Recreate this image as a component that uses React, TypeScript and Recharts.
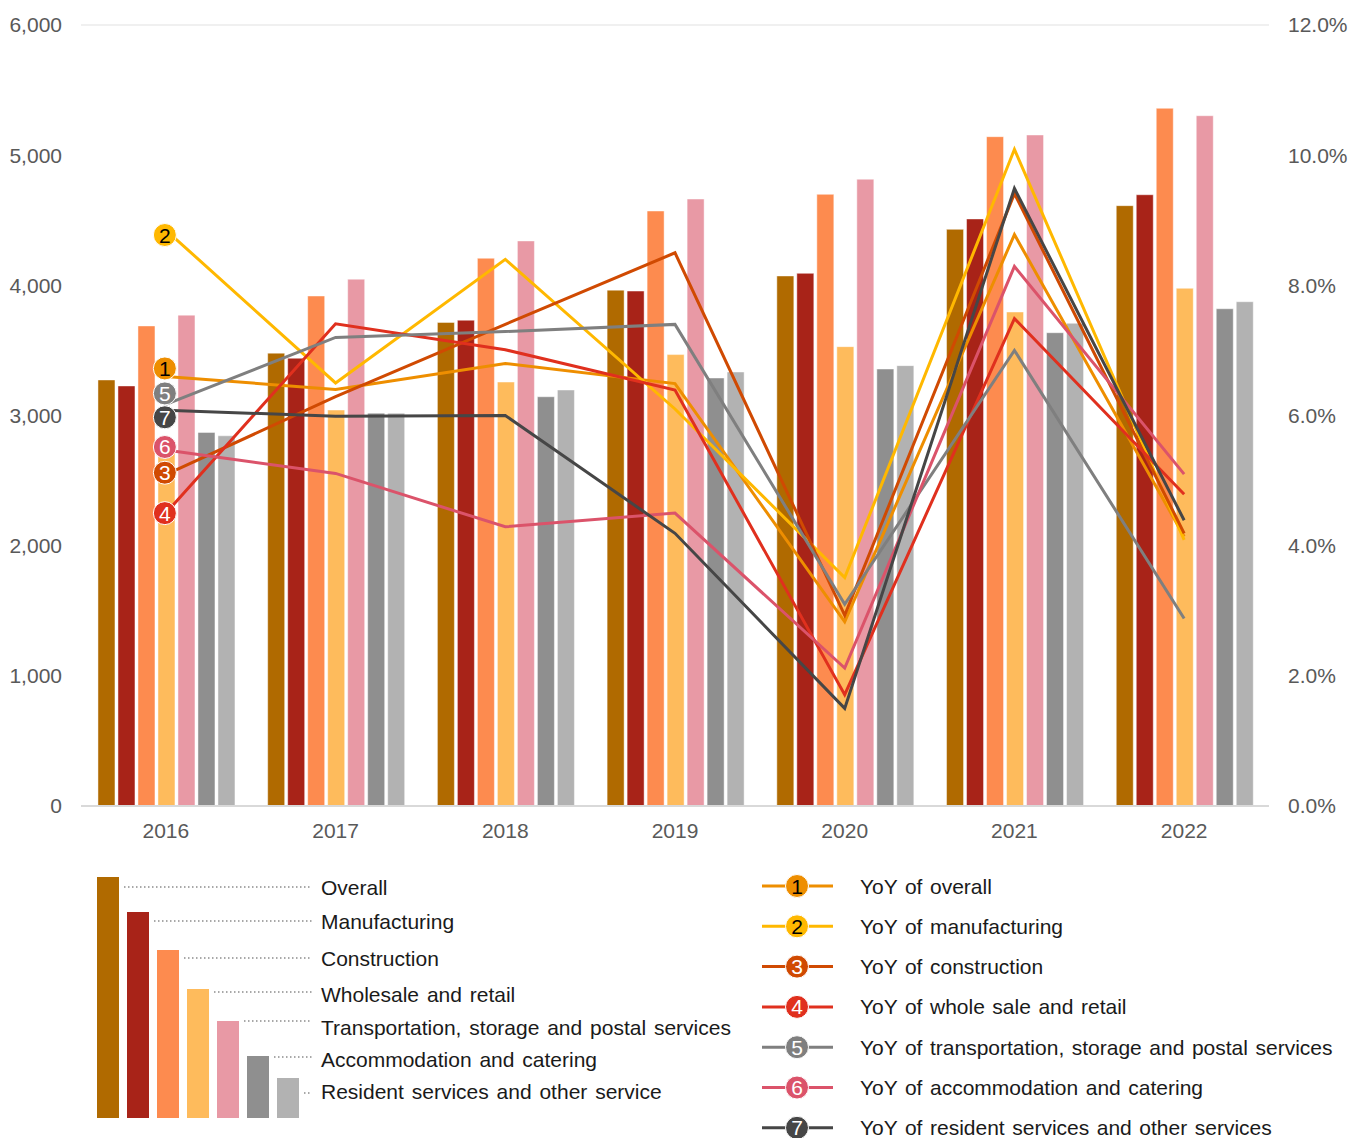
import React from "react";
import {
  ComposedChart,
  Bar,
  Line,
  XAxis,
  YAxis,
  CartesianGrid,
} from "recharts";

// ---- data ----
const years = ["2016", "2017", "2018", "2019", "2020", "2021", "2022"];

const overall = [3273, 3479, 3715, 3963, 4072, 4430, 4612];
const manufacturing = [3227, 3440, 3732, 3956, 4092, 4510, 4696];
const construction = [3688, 3918, 4208, 4571, 4699, 5142, 5360];
const wholesaleRetail = [2760, 3042, 3257, 3468, 3529, 3795, 3977];
const transportation = [3771, 4047, 4341, 4663, 4815, 5155, 5303];
const accommodation = [2870, 3018, 3144, 3288, 3357, 3636, 3820];
const residentServices = [2844, 3018, 3196, 3334, 3383, 3708, 3874];

const yoyOverall = [6.6, 6.4, 6.8, 6.49, 2.83, 8.78, 4.14];
const yoyManufacturing = [8.85, 6.5, 8.4, 6.1, 3.51, 10.09, 4.09];
const yoyConstruction = [5.09, 6.29, 7.4, 8.5, 2.93, 9.41, 4.19];
const yoyWholesale = [4.5, 7.41, 7.01, 6.39, 1.71, 7.49, 4.79];
const yoyTransport = [6.17, 7.2, 7.29, 7.4, 3.1, 7.0, 2.88];
const yoyAccommodation = [5.47, 5.11, 4.29, 4.5, 2.12, 8.29, 5.1];
const yoyResident = [6.08, 5.99, 6.0, 4.19, 1.5, 9.49, 4.39];

const leftTicks = [0, 1000, 2000, 3000, 4000, 5000, 6000];
const rightTicks = [0, 2, 4, 6, 8, 10, 12];

const FONT = "'Liberation Sans', Arial, sans-serif";

const barSeries = [
  { key: "overall", name: "Overall", color: "#B06A00", values: overall },
  { key: "manufacturing", name: "Manufacturing", color: "#A82318", values: manufacturing },
  { key: "construction", name: "Construction", color: "#FD8B4F", values: construction },
  { key: "wholesale", name: "Wholesale and retail", color: "#FEBB5C", values: wholesaleRetail },
  { key: "transport", name: "Transportation, storage and postal services", color: "#E899A5", values: transportation },
  { key: "accommodation", name: "Accommodation and catering", color: "#8F8F8F", values: accommodation },
  { key: "resident", name: "Resident services and other service", color: "#B2B2B2", values: residentServices },
];

// labelShift nudges the numbered badge off the first point so badges don't collide
const lineSeries = [
  { key: "yoy1", name: "YoY of overall", color: "#EE8E00", text: "#000", values: yoyOverall, labelShift: -8 },
  { key: "yoy2", name: "YoY of manufacturing", color: "#FFB800", text: "#000", values: yoyManufacturing, labelShift: 5 },
  { key: "yoy3", name: "YoY of construction", color: "#D04A02", text: "#fff", values: yoyConstruction, labelShift: -2 },
  { key: "yoy4", name: "YoY of whole sale and retail", color: "#E0301E", text: "#fff", values: yoyWholesale, labelShift: 0 },
  { key: "yoy5", name: "YoY of transportation, storage and postal services", color: "#7F7F7F", text: "#fff", values: yoyTransport, labelShift: -11 },
  { key: "yoy6", name: "YoY of accommodation and catering", color: "#DB536A", text: "#fff", values: yoyAccommodation, labelShift: -3 },
  { key: "yoy7", name: "YoY of resident services and other services", color: "#464646", text: "#fff", values: yoyResident, labelShift: 7 },
];

const rows = years.map((year, i) => {
  const row: Record<string, string | number> = { year };
  barSeries.forEach((s) => (row[s.key] = s.values[i]));
  lineSeries.forEach((s) => (row[s.key] = s.values[i]));
  return row;
});

const Badge = ({ cx, cy, color, text, label }: any) => (
  <g>
    <circle cx={cx} cy={cy} r={11.5} fill={color} stroke="#fff" strokeWidth={1} />
    <text
      x={cx}
      y={cy}
      dy={7.5}
      textAnchor="middle"
      fontSize={21}
      fontFamily={FONT}
      fill={text}
    >
      {label}
    </text>
  </g>
);

const firstPointBadge = (s: (typeof lineSeries)[number], n: number) => (props: any) => {
  if (props.index !== 0) return <g key={`${s.key}-${props.index}`} />;
  return (
    <g key={`${s.key}-badge`}>
      <Badge cx={props.cx - 1} cy={props.cy + s.labelShift} color={s.color} text={s.text} label={n} />
    </g>
  );
};

const legendBarTops = [877, 912, 950, 989, 1021, 1056, 1078];
const legendDotY = [887, 921, 958, 992, 1021, 1057, 1093];
const legendTextY = [887, 921, 958, 994, 1027, 1059, 1091];

const BottomLegend = () => (
  <svg
    width={1350}
    height={1138}
    style={{ position: "absolute", left: 0, top: 0, pointerEvents: "none" }}
  >
    {barSeries.map((s, i) => {
      const x = 97 + 30 * i;
      return (
        <g key={s.key}>
          <rect x={x} y={legendBarTops[i]} width={22} height={1118 - legendBarTops[i]} fill={s.color} />
          <line
            x1={x + 27}
            x2={312}
            y1={legendDotY[i]}
            y2={legendDotY[i]}
            stroke="#8c8c8c"
            strokeWidth={1.5}
            strokeDasharray="1.5 2.5"
          />
          <text
            x={321}
            y={legendTextY[i]}
            dy={7.5}
            fontSize={21}
            fontFamily={FONT}
            fill="#1a1a1a"
            style={{ wordSpacing: 2 }}
          >
            {s.name}
          </text>
        </g>
      );
    })}
    {lineSeries.map((s, i) => {
      const y = 886 + 40.3 * i;
      return (
        <g key={s.key}>
          <line x1={762} x2={833} y1={y} y2={y} stroke={s.color} strokeWidth={3} />
          <Badge cx={797} cy={y} color={s.color} text={s.text} label={i + 1} />
          <text
            x={860}
            y={y}
            dy={7.5}
            fontSize={21}
            fontFamily={FONT}
            fill="#1a1a1a"
            style={{ wordSpacing: 1.7 }}
          >
            {s.name}
          </text>
        </g>
      );
    })}
  </svg>
);

export default function App() {
  const tick = { fill: "#595959", fontSize: 21, fontFamily: FONT };
  return (
    <div
      style={{
        position: "absolute",
        left: 0,
        top: 0,
        width: 1350,
        height: 1138,
        background: "#fff",
        overflow: "hidden",
      }}
    >
      <ComposedChart
        width={1350}
        height={850}
        data={rows}
        margin={{ top: 25, right: 0, bottom: 0, left: 0 }}
        barCategoryGap="10%"
        barGap={3}
      >
        <CartesianGrid vertical={false} stroke="#ebebeb" strokeWidth={1.5} />
        <XAxis
          dataKey="year"
          height={44}
          tick={tick}
          tickLine={false}
          axisLine={{ stroke: "#d9d9d9", strokeWidth: 2 }}
          tickSize={0}
          tickMargin={17}
        />
        <YAxis
          yAxisId="left"
          width={81}
          domain={[0, 6000]}
          ticks={leftTicks}
          tick={tick}
          tickFormatter={(v: number) => v.toLocaleString("en-US")}
          axisLine={false}
          tickLine={false}
          tickSize={0}
          tickMargin={19}
        />
        <YAxis
          yAxisId="right"
          orientation="right"
          width={81}
          domain={[0, 12]}
          ticks={rightTicks}
          tick={tick}
          tickFormatter={(v: number) => `${v.toFixed(1)}%`}
          axisLine={false}
          tickLine={false}
          tickSize={0}
          tickMargin={19}
        />
        {barSeries.map((s) => (
          <Bar
            key={s.key}
            yAxisId="left"
            dataKey={s.key}
            fill={s.color}
            stroke="rgba(255,255,255,0.45)"
            strokeWidth={1}
            isAnimationActive={false}
          />
        ))}
        {lineSeries.map((s, i) => (
          <Line
            key={s.key}
            yAxisId="right"
            type="linear"
            dataKey={s.key}
            stroke={s.color}
            strokeWidth={3}
            dot={firstPointBadge(s, i + 1)}
            activeDot={false}
            isAnimationActive={false}
          />
        ))}
      </ComposedChart>
      <BottomLegend />
    </div>
  );
}
